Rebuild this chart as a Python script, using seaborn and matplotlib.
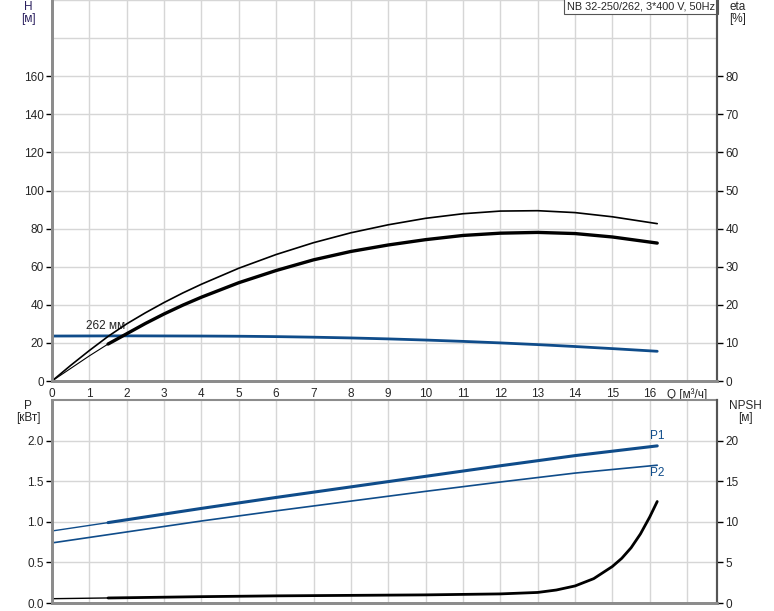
import numpy as np
import pandas as pd
import matplotlib
matplotlib.use("Agg")
import matplotlib.pyplot as plt
import seaborn as sns

# --- data ---
q_h = [0, 2, 4, 5, 6, 7, 8, 9, 10, 11, 12, 13, 14, 15, 16.2]
head = [23.6, 23.7, 23.6, 23.5, 23.3, 23.0, 22.6, 22.1, 21.5, 20.8, 20.0, 19.1, 18.1, 17.0, 15.6]

q_eta_pump = [0, 0.5, 1, 1.5, 2, 2.5, 3, 3.5, 4, 5, 6, 7, 8, 9, 10, 11, 12, 13, 14, 15, 16.2]
eta_pump = [0, 4.1, 8.0, 11.7, 15.0, 17.9, 20.6, 23.1, 25.4, 29.6, 33.2, 36.3, 38.9, 41.0, 42.7, 43.9, 44.6, 44.7, 44.2, 43.1, 41.3]

q_eta_total = [0, 1, 1.5, 2, 2.5, 3, 3.5, 4, 5, 6, 7, 8, 9, 10, 11, 12, 13, 14, 15, 16.2]
eta_total = [0, 6.6, 9.7, 12.4, 15.1, 17.6, 19.9, 22.0, 25.8, 29.0, 31.8, 34.0, 35.7, 37.1, 38.2, 38.8, 39.0, 38.7, 37.8, 36.2]

q_p1 = [0, 1.5, 2, 4, 6, 8, 10, 12, 14, 16.2]
p1 = [0.887, 0.99, 1.025, 1.165, 1.30, 1.43, 1.56, 1.69, 1.815, 1.935]

q_p2 = [0, 4, 6, 8, 10, 12, 14, 16.2]
p2 = [0.74, 1.01, 1.135, 1.255, 1.375, 1.49, 1.60, 1.697]

q_npsh = [0, 1.5, 2, 4, 6, 8, 10, 12, 13, 13.5, 14, 14.5, 15, 15.25, 15.5, 15.75, 16, 16.2]
npsh = [0.53, 0.62, 0.65, 0.78, 0.88, 0.94, 1.0, 1.12, 1.3, 1.6, 2.1, 3.0, 4.5, 5.5, 6.8, 8.5, 10.6, 12.5]

x_labels = [str(i) for i in range(17)] + ["Q [м³/ч]"]
h_ticks = [0, 20, 40, 60, 80, 100, 120, 140, 160]
eta_ticks = [0, 10, 20, 30, 40, 50, 60, 70, 80]
p_ticks = [0.0, 0.5, 1.0, 1.5, 2.0]
npsh_ticks = [0, 5, 10, 15, 20]
title = "NB 32-250/262, 3*400 V, 50Hz"

BLUE = "#0f4c8a"
GRID = "#d6d6d6"
SPINE = "#8c8c8c"

sns.set_style("white")
plt.rcParams['font.family'] = ['Liberation Sans', 'DejaVu Sans']
plt.rcParams['font.size'] = 8.5


def curve(q, v):
    return pd.DataFrame({"Q": q, "v": v})


def style_pair(ax, ax2):
    ax.set_xlim(0, 17.8)
    ax.set_xticks(np.arange(0, 18, 1))
    ax.grid(True, color=GRID, lw=1)
    ax.set_axisbelow(True)
    for a in (ax, ax2):
        a.spines["top"].set_visible(False)
        for s in ("left", "bottom"):
            a.spines[s].set_color(SPINE)
            a.spines[s].set_linewidth(2)
        a.spines["right"].set_color("#555555")
        a.spines["right"].set_linewidth(1.5)
        a.tick_params(axis="y", length=4, width=1, color="black", pad=2)
        a.set_xlabel("")
        a.set_ylabel("")


fig = plt.figure(figsize=(7.74, 6.11), dpi=100)

# ---------- top panel: H and eta ----------
ax = fig.add_axes([52 / 774, 1 - 381 / 611, 665 / 774, 381 / 611])
ax2 = ax.twinx()

sns.lineplot(data=curve(q_h, head), x="Q", y="v", ax=ax, color=BLUE, lw=2.0)

sns.lineplot(data=curve(q_eta_pump, eta_pump), x="Q", y="v", ax=ax2, color="black", lw=1.2)
tot = curve(q_eta_total, eta_total)
sns.lineplot(data=tot[tot.Q <= 1.5], x="Q", y="v", ax=ax2, color="black", lw=0.8)
sns.lineplot(data=tot[tot.Q >= 1.5], x="Q", y="v", ax=ax2, color="black", lw=2.4)

style_pair(ax, ax2)
ax.set_ylim(0, 200)
ax2.set_ylim(0, 100)
ax.set_yticks(h_ticks)
ax.set_yticklabels([str(v) for v in h_ticks])
ax2.set_yticks(eta_ticks)
ax2.set_yticklabels([str(v) for v in eta_ticks])
for y in (180, 200):
    ax.axhline(y, color=GRID, lw=1, zorder=0)
ax.set_xticklabels(x_labels)
ax.tick_params(axis="x", length=3, pad=2)

ax.text(0.9, 27.3, "262 мм", fontsize=8.5, color="#222222")
ax.text(0.997, 0.997, title, transform=ax.transAxes, ha="right", va="top", fontsize=7.8,
        bbox=dict(boxstyle="square,pad=0.25", fc="white", ec="#555555", lw=0.8))

fig.text(28 / 774, 1 - 7 / 611, "H", ha="center", va="center", fontsize=8.5, color="#2a1f5e")
fig.text(28 / 774, 1 - 19 / 611, "[м]", ha="center", va="center", fontsize=8.5, color="#2a1f5e")
fig.text(738 / 774, 1 - 7 / 611, "eta", ha="center", va="center", fontsize=8.5)
fig.text(738 / 774, 1 - 19 / 611, "[%]", ha="center", va="center", fontsize=8.5)

# ---------- bottom panel: P and NPSH ----------
bx = fig.add_axes([52 / 774, 8 / 611, 665 / 774, 203 / 611])
bx2 = bx.twinx()

pp1 = curve(q_p1, p1)
sns.lineplot(data=pp1[pp1.Q <= 1.5], x="Q", y="v", ax=bx, color=BLUE, lw=1.0)
sns.lineplot(data=pp1[pp1.Q >= 1.5], x="Q", y="v", ax=bx, color=BLUE, lw=2.2)
sns.lineplot(data=curve(q_p2, p2), x="Q", y="v", ax=bx, color=BLUE, lw=1.2)

nn = curve(q_npsh, npsh)
sns.lineplot(data=nn[nn.Q <= 1.5], x="Q", y="v", ax=bx2, color="black", lw=1.0)
sns.lineplot(data=nn[nn.Q >= 1.5], x="Q", y="v", ax=bx2, color="black", lw=2.0)

style_pair(bx, bx2)
bx.set_ylim(0, 2.5)
bx2.set_ylim(0, 25)
bx.set_yticks(p_ticks)
bx.set_yticklabels([f"{v:.1f}" for v in p_ticks])
bx2.set_yticks(npsh_ticks)
bx2.set_yticklabels([str(v) for v in npsh_ticks])
bx.set_xticklabels([])
bx.tick_params(axis="x", length=0)
bx.spines["top"].set_visible(True)
bx.spines["top"].set_color(SPINE)
bx.spines["top"].set_linewidth(1.5)

bx.text(16.0, 2.02, "P1", color=BLUE, fontsize=8.5)
bx.text(16.0, 1.57, "P2", color=BLUE, fontsize=8.5)

fig.text(28 / 774, 1 - 406 / 611, "P", ha="center", va="center", fontsize=8.5)
fig.text(28 / 774, 1 - 418 / 611, "[кВт]", ha="center", va="center", fontsize=8.5)
fig.text(745 / 774, 1 - 406 / 611, "NPSH", ha="center", va="center", fontsize=8.5)
fig.text(745 / 774, 1 - 418 / 611, "[м]", ha="center", va="center", fontsize=8.5)

fig.savefig("out.png", dpi=100)
